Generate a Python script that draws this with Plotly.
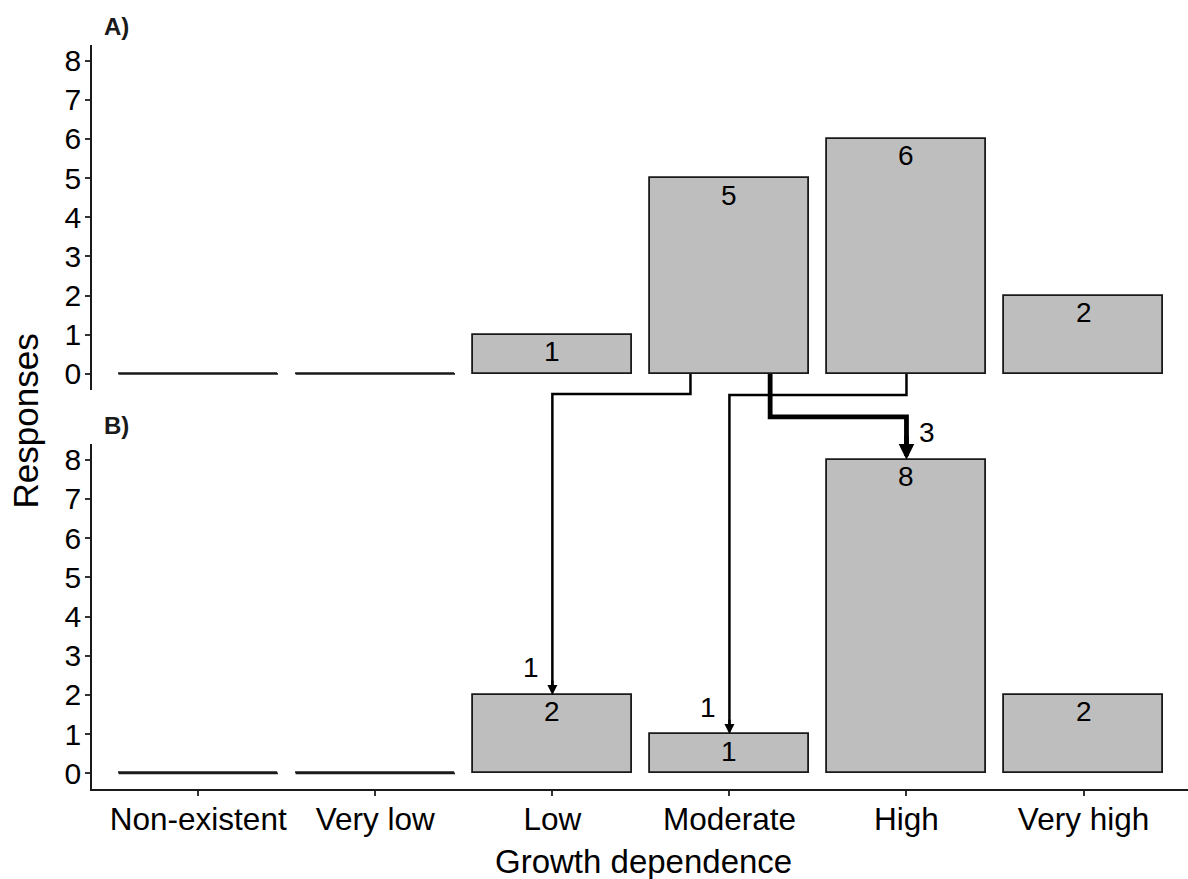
import plotly.graph_objects as go

# ---------------- data ----------------
categories = ["Non-existent", "Very low", "Low", "Moderate", "High", "Very high"]
responses_a = [0, 0, 1, 5, 6, 2]   # panel A
responses_b = [0, 0, 2, 1, 8, 2]   # panel B
y_ticks = [0, 1, 2, 3, 4, 5, 6, 7, 8]

# flows of responses from panel A categories to panel B categories
flow_from = ["Moderate", "High", "Moderate"]
flow_to = ["Low", "Moderate", "High"]
flow_count = [1, 1, 3]

# ---------------- style ----------------
FONT = "Liberation Sans, Arial, sans-serif"
BAR_FILL = "#BEBEBE"
EDGE = "#1a1a1a"
W, H = 1188, 879
ML, MR, MT, MB = 92, 0, 45, 90
YR = [-0.4, 8.4]
XR = [-0.6, 5.59]
DOM_A = [0.5368, 1.0]
DOM_B = [0.0, 0.4637]
PLOT_H = H - MT - MB

flow_start_offset = [-0.22, 0.0, 0.23]   # where the flow leaves the source bar
flow_elbow_px = [20, 21, 43]             # depth of the horizontal run below panel A
flow_width = [2.5, 2.5, 4.8]
flow_arrowsize = [0.8, 0.8, 0.65]
flow_label_side = [-1, -1, 1]


def ypaper(v, dom):
    return dom[0] + (v - YR[0]) / (YR[1] - YR[0]) * (dom[1] - dom[0])


idx = {c: i for i, c in enumerate(categories)}
xs = list(range(len(categories)))

fig = go.Figure()

for vals, xa, ya in [(responses_a, "x", "y"), (responses_b, "x2", "y2")]:
    fig.add_trace(go.Bar(
        x=xs, y=vals, width=0.9, xaxis=xa, yaxis=ya,
        marker=dict(color=BAR_FILL, line=dict(color=EDGE, width=1.8)),
        hoverinfo="skip", showlegend=False))
    # zero-height bars drawn as flat outlines
    zx, zy = [], []
    for i, v in enumerate(vals):
        if v == 0:
            zx += [i - 0.45, i + 0.45, None]
            zy += [0, 0, None]
    fig.add_trace(go.Scatter(
        x=zx, y=zy, mode="lines", xaxis=xa, yaxis=ya,
        line=dict(color=EDGE, width=1.8), hoverinfo="skip", showlegend=False))

annotations = []
# bar value labels
for vals, xa, ya in [(responses_a, "x", "y"), (responses_b, "x2", "y2")]:
    for i, v in enumerate(vals):
        if v > 0:
            annotations.append(dict(
                x=i, y=v, xref=xa, yref=ya, text=str(v), showarrow=False,
                xanchor="center", yanchor="middle", yshift=-17,
                font=dict(family=FONT, size=28, color="black")))

shapes = []
for k in range(len(flow_count)):
    x0 = idx[flow_from[k]] + flow_start_offset[k]
    x1 = idx[flow_to[k]]
    y0 = ypaper(0, DOM_A)
    ye = y0 - flow_elbow_px[k] / PLOT_H
    vt = responses_b[idx[flow_to[k]]]
    ytip = ypaper(vt, DOM_B)
    head_px = 5 * flow_width[k] * flow_arrowsize[k]
    yend = ytip + (head_px * 0.6) / PLOT_H
    shapes.append(dict(
        type="path", xref="x2", yref="paper", layer="above",
        path=f"M{x0},{y0} L{x0},{ye} L{x1},{ye} L{x1},{yend}",
        line=dict(color="black", width=flow_width[k])))
    annotations.append(dict(
        x=x1, y=ytip, xref="x2", yref="paper", text="", showarrow=True,
        ax=0, ay=-(head_px * 1.6), axref="pixel", ayref="pixel",
        arrowhead=2, arrowwidth=flow_width[k], arrowsize=flow_arrowsize[k],
        arrowcolor="black", standoff=0))
    annotations.append(dict(
        x=x1, y=ytip, xref="x2", yref="paper", text=str(flow_count[k]),
        showarrow=False, xanchor="center", yanchor="middle",
        xshift=flow_label_side[k] * 21, yshift=27,
        font=dict(family=FONT, size=28, color="black")))

# panel letters
annotations.append(dict(x=0.009, y=1.025, xref="paper", yref="paper", text="<b>A)</b>",
                        showarrow=False, xanchor="left", yanchor="middle",
                        font=dict(family=FONT, size=24, color="#1a1a1a")))
annotations.append(dict(x=0.009, y=0.489, xref="paper", yref="paper", text="<b>B)</b>",
                        showarrow=False, xanchor="left", yanchor="middle",
                        font=dict(family=FONT, size=24, color="#1a1a1a")))
# axis titles
annotations.append(dict(x=(25 - ML) / (W - ML - MR), y=0.494, xref="paper", yref="paper",
                        text="Responses", textangle=-90, showarrow=False,
                        xanchor="center", yanchor="middle",
                        font=dict(family=FONT, size=35, color="black")))
annotations.append(dict(x=0.503, y=-0.098, xref="paper", yref="paper",
                        text="Growth dependence", showarrow=False,
                        xanchor="center", yanchor="middle",
                        font=dict(family=FONT, size=33, color="black")))

yaxis_common = dict(range=YR, tickvals=y_ticks, showgrid=False, zeroline=False,
                    showline=True, linecolor=EDGE, linewidth=1.8,
                    ticks="outside", ticklen=5, tickwidth=1.5, tickcolor="#333333",
                    ticklabelstandoff=-2,
                    tickfont=dict(family=FONT, size=30, color="black"))

fig.update_layout(
    width=W, height=H, margin=dict(l=ML, r=MR, t=MT, b=MB),
    paper_bgcolor="white", plot_bgcolor="white",
    xaxis=dict(range=XR, domain=[0, 1], anchor="y", showline=False, showticklabels=False,
               ticks="", showgrid=False, zeroline=False),
    yaxis=dict(domain=DOM_A, anchor="x", **yaxis_common),
    xaxis2=dict(range=XR, domain=[0, 1], anchor="y2", showgrid=False, zeroline=False,
                tickvals=xs, ticktext=categories, showline=True, linecolor=EDGE,
                linewidth=1.8, ticks="outside", ticklen=5, tickwidth=1.5,
                tickcolor="#333333", ticklabelstandoff=-4,
                tickfont=dict(family=FONT, size=31.5, color="black")),
    yaxis2=dict(domain=DOM_B, anchor="x2", **yaxis_common),
    shapes=shapes, annotations=annotations, bargap=0, showlegend=False,
)

fig.write_html("out.html")
